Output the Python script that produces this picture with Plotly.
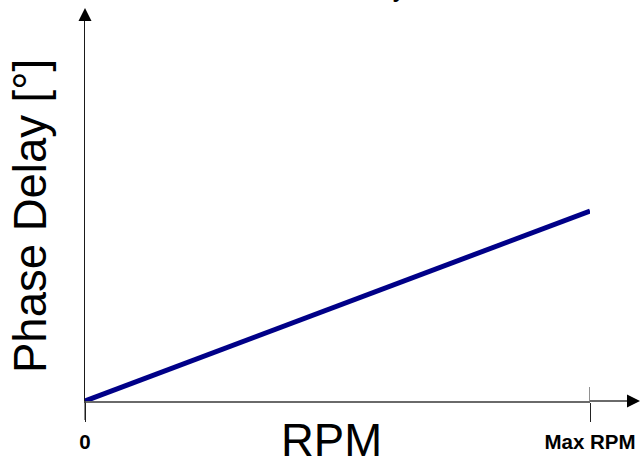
import plotly.graph_objects as go

# Data (normalized: 0 .. Max RPM)
rpm = [0, 1]
phase_delay = [0, 0.5]
tick_vals = [0, 1]
tick_text = ["0", "Max RPM"]

W, H = 641, 458
ML, MR, MT, MB = 85, 51, 21, 57
PW = W - ML - MR
PH = H - MT - MB

def px(x):
    return (x - ML) / PW

def py(y):
    return (H - MB - y) / PH

fig = go.Figure()
fig.add_trace(go.Scatter(
    x=rpm, y=phase_delay, mode="lines",
    line=dict(color="#000088", width=5),
    showlegend=False, hoverinfo="skip",
))

font = "Liberation Sans, Arial, sans-serif"

fig.update_layout(
    template="none",
    width=W, height=H,
    margin=dict(l=ML, r=MR, t=MT, b=MB, pad=0, autoexpand=False),
    paper_bgcolor="white", plot_bgcolor="white",
    xaxis=dict(
        range=[0, 1], showgrid=False, zeroline=False, automargin=False,
        showline=True, linecolor="#6a6a6a", linewidth=2,
        tickvals=tick_vals, ticktext=tick_text,
        ticks="outside", ticklen=19, tickwidth=1, tickcolor="#222",
        tickfont=dict(family=font, size=20.5, color="black", weight="bold"),
        ticklabelstandoff=2,
        fixedrange=True,
    ),
    yaxis=dict(
        range=[0, 1], showgrid=False, zeroline=False, automargin=False,
        showline=True, linecolor="#1a1a1a", linewidth=1,
        showticklabels=False, ticks="",
        fixedrange=True,
    ),
    shapes=[
        dict(type="line", xref="x", yref="paper", x0=1, x1=1,
             y0=0, y1=py(387), line=dict(color="#222", width=1)),
        dict(type="line", xref="paper", yref="paper", x0=1, x1=px(632),
             y0=0, y1=0, line=dict(color="#6a6a6a", width=2)),
        dict(type="line", xref="paper", yref="paper", x0=0, x1=0,
             y0=py(420), y1=0, line=dict(color="#1a1a1a", width=1)),
    ],
    annotations=[
        dict(x=0, y=py(8), xref="paper", yref="paper", ax=0, ay=14,
             showarrow=True, arrowhead=2, arrowsize=2.6, arrowwidth=1,
             arrowcolor="black", standoff=0, text=""),
        dict(x=px(641), y=0, xref="paper", yref="paper", ax=-14, ay=0,
             showarrow=True, arrowhead=2, arrowsize=2.6, arrowwidth=1,
             arrowcolor="black", standoff=0, text=""),
        dict(text="RPM", x=px(331.5), y=py(441), xref="paper", yref="paper",
             showarrow=False, xanchor="center", yanchor="middle",
             font=dict(family=font, size=45.5, color="black")),
        dict(text="Phase Delay [°]", x=px(31), y=py(216), xref="paper", yref="paper",
             showarrow=False, xanchor="center", yanchor="middle", textangle=-90,
             font=dict(family=font, size=45.5, color="black")),
        dict(text="Phase Delay", x=px(407), y=py(4), xref="paper", yref="paper",
             showarrow=False, xanchor="right", yanchor="bottom",
             font=dict(family=font, size=22, color="black", weight="bold")),
    ],
)

css = ("var s=document.createElement('style');"
       "s.textContent='html,body{margin:0;padding:0;overflow:hidden;}';"
       "document.head.appendChild(s);")
fig.write_html("out.html", config={"displayModeBar": False}, post_script=css)
